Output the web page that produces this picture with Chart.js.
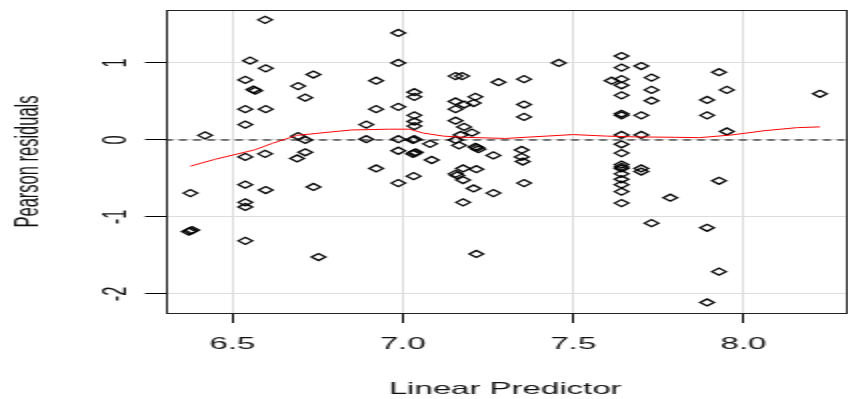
<!DOCTYPE html>
<html>
<head>
<meta charset="utf-8">
<script src="https://cdn.jsdelivr.net/npm/chart.js@4.4.1/dist/chart.umd.min.js"></script>
<style>
  html, body { margin: 0; padding: 0; background: #ffffff; }
  #wrap { width: 848px; height: 399px; overflow: hidden; position: relative; background: #fff; }
  #c { position: absolute; left: 0; top: 0; transform: scaleX(2); transform-origin: 0 0; }
</style>
</head>
<body>
<div id="wrap"><canvas id="c" width="428" height="399"></canvas></div>
<script>
// ---- data ----
const linearPredictor = [
  6.377, 6.377, 6.372, 6.382, 6.42,
  6.552, 6.538, 6.538, 6.538, 6.538, 6.538, 6.538, 6.538, 6.538,
  6.567, 6.562, 6.596, 6.598, 6.598, 6.596, 6.598,
  6.738, 6.693, 6.714, 6.693, 6.714, 6.714, 6.690, 6.738, 6.753,
  6.987, 6.987, 6.922, 6.922, 6.987, 6.893, 6.893, 6.987, 6.987, 6.922, 6.987,
  7.034, 7.034, 7.034, 7.034, 7.034, 7.034, 7.030, 7.034, 7.030, 7.038, 7.032,
  7.080, 7.085,
  7.155, 7.174, 7.213, 7.155, 7.180, 7.208, 7.155, 7.155, 7.180, 7.203, 7.170, 7.155,
  7.165, 7.213, 7.218, 7.222, 7.266, 7.177, 7.216, 7.155, 7.160, 7.177, 7.208, 7.266,
  7.177, 7.216,
  7.281, 7.356, 7.356, 7.356, 7.349, 7.349, 7.352, 7.356,
  7.458,
  7.642, 7.642, 7.613, 7.642, 7.642, 7.642, 7.642, 7.642, 7.642, 7.642, 7.642,
  7.642, 7.642, 7.642, 7.642, 7.642, 7.642, 7.642, 7.642,
  7.700, 7.700, 7.700, 7.700, 7.700,
  7.730, 7.730, 7.730, 7.730, 7.785,
  7.928, 7.951, 7.893, 7.893, 7.951, 7.928, 7.893, 7.928, 7.893,
  8.224
];
const pearsonResiduals = [
  -0.69, -1.18, -1.19, -1.17, 0.06,
  1.03, 0.78, 0.40, 0.20, -0.22, -0.58, -0.81, -0.87, -1.31,
  0.64, 0.655, 1.56, 0.93, 0.40, -0.18, -0.65,
  0.85, 0.70, 0.55, 0.05, 0.00, -0.16, -0.24, -0.61, -1.52,
  1.39, 1.00, 0.77, 0.40, 0.43, 0.20, 0.01, 0.01, -0.14, -0.37, -0.56,
  0.62, 0.56, 0.32, 0.24, 0.18, 0.01, 0.00, -0.17, -0.18, -0.16, -0.47,
  -0.05, -0.26,
  0.83, 0.83, 0.56, 0.50, 0.46, 0.48, 0.40, 0.25, 0.17, 0.095, 0.065, 0.00,
  -0.07, -0.09, -0.10, -0.12, -0.20, -0.37, -0.38, -0.44, -0.46, -0.52, -0.63, -0.69,
  -0.81, -1.48,
  0.75, 0.79, 0.46, 0.30, -0.13, -0.22, -0.28, -0.56,
  1.00,
  1.09, 0.94, 0.77, 0.79, 0.71, 0.58, 0.32, 0.34, 0.065, -0.056, -0.17,
  -0.32, -0.35, -0.37, -0.44, -0.51, -0.58, -0.67, -0.82,
  0.96, 0.32, 0.065, -0.37, -0.41,
  0.81, 0.65, 0.51, -1.08, -0.75,
  0.88, 0.65, 0.52, 0.32, 0.11, -0.53, -1.14, -1.71, -2.11,
  0.60
];
// lowess smoother (red line)
const smoothX = [6.377, 6.45, 6.564, 6.62, 6.69, 6.78, 6.85, 6.96, 7.02, 7.06, 7.12, 7.18, 7.30, 7.42, 7.50, 7.60, 7.68, 7.80, 7.87, 7.965, 8.06, 8.157, 8.224];
const smoothY = [-0.34, -0.25, -0.13, -0.04, 0.06, 0.10, 0.13, 0.14, 0.14, 0.09, 0.05, 0.035, 0.02, 0.05, 0.07, 0.05, 0.04, 0.035, 0.03, 0.065, 0.12, 0.16, 0.17];
// reference line y = 0
const referenceY = 0;
// axes
const xLimits = [6.3023, 8.299];
const yLimits = [-2.247, 1.688];
const xTicks = [6.5, 7.0, 7.5, 8.0];
const xTickLabels = ['6.5', '7.0', '7.5', '8.0'];
const yTicks = [1, 0, -1, -2];
const yTickLabels = ['1', '0', '-1', '-2'];
const xTitle = 'Linear Predictor';
const yTitle = 'Pearson residuals';

// ---- chart ----
const FONT = 'Liberation Sans, Arial, sans-serif';
const boxPlugin = {
  id: 'plotBox',
  afterDatasetsDraw(chart) {
    const a = chart.chartArea, ctx = chart.ctx;
    ctx.save();
    ctx.strokeStyle = '#222';
    ctx.lineWidth = 1;
    ctx.strokeRect(Math.round(a.left) + 0.5, Math.round(a.top) + 0.5,
                   Math.round(a.right - a.left), Math.round(a.bottom - a.top));
    ctx.restore();
  }
};

new Chart(document.getElementById('c'), {
  type: 'scatter',
  data: {
    datasets: [
      {
        type: 'line',
        label: 'lowess',
        data: smoothX.map((x, i) => ({ x, y: smoothY[i] })),
        borderColor: '#ff0000',
        borderWidth: 1,
        pointRadius: 0,
        tension: 0,
        fill: false
      },
      {
        type: 'line',
        label: 'zero',
        data: xLimits.map(x => ({ x, y: referenceY })),
        borderColor: '#000000',
        borderWidth: 1.1,
        borderDash: [4, 3],
        pointRadius: 0,
        fill: false
      },
      {
        label: 'residuals',
        data: linearPredictor.map((x, i) => ({ x, y: pearsonResiduals[i] })),
        pointStyle: 'rectRot',
        pointRadius: 3.5,
        pointBorderWidth: 1.25,
        borderColor: '#000000',
        backgroundColor: 'rgba(0,0,0,0)'
      }
    ]
  },
  options: {
    responsive: false,
    animation: false,
    devicePixelRatio: 1,
    layout: { padding: { top: 10, right: 2, left: 0, bottom: 0 } },
    plugins: { legend: { display: false }, tooltip: { enabled: false } },
    scales: {
      x: {
        type: 'linear',
        min: xLimits[0],
        max: xLimits[1],
        afterBuildTicks: s => { s.ticks = xTicks.map(v => ({ value: v })); },
        afterFit: s => { s.height = 86; s.paddingLeft = 0; s.paddingRight = 0; },
        border: { display: false },
        grid: { color: '#dcdcdc', lineWidth: 1, drawTicks: true, tickLength: 10, tickColor: '#000', tickWidth: 1 },
        ticks: {
          autoSkip: false, maxRotation: 0, minRotation: 0, padding: 12,
          color: '#111', font: { family: FONT, size: 16.5 },
          callback: (v) => { const i = xTicks.indexOf(v); return i >= 0 ? xTickLabels[i] : ''; }
        },
        title: { display: true, text: xTitle, color: '#111', font: { family: FONT, size: 16.5 }, padding: { top: 0, bottom: 0 } }
      },
      y: {
        type: 'linear',
        min: yLimits[0],
        max: yLimits[1],
        afterBuildTicks: s => { s.ticks = yTicks.map(v => ({ value: v })); },
        afterFit: s => { s.width = 82.5; s.paddingTop = 0; s.paddingBottom = 0; },
        border: { display: false },
        grid: { color: '#dcdcdc', lineWidth: 1, drawTicks: true, tickLength: 10, tickColor: '#000', tickWidth: 1 },
        ticks: {
          autoSkip: false, minRotation: 90, maxRotation: 90, crossAlign: 'center', padding: 6.5,
          color: '#111', font: { family: FONT, size: 16.5 },
          callback: (v) => { const i = yTicks.indexOf(v); return i >= 0 ? yTickLabels[i] : ''; }
        },
        title: { display: true, text: yTitle, color: '#111', font: { family: FONT, size: 16.5 }, padding: { top: 4.5, bottom: 0 } }
      }
    }
  },
  plugins: [boxPlugin]
});
</script>
</body>
</html>
